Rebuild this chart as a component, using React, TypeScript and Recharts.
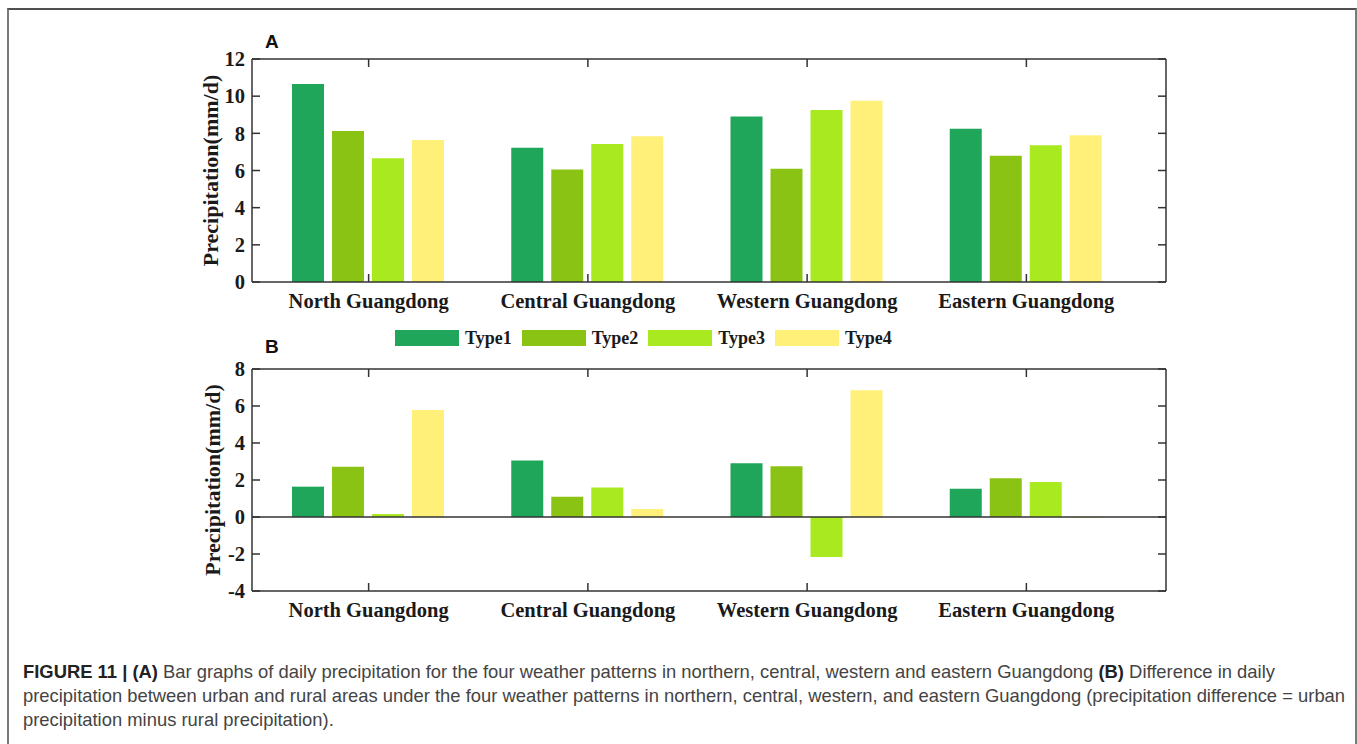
import React from 'react';
import { BarChart, Bar, XAxis, YAxis, ReferenceLine } from 'recharts';

// categories and series
const regions = ['North Guangdong', 'Central Guangdong', 'Western Guangdong', 'Eastern Guangdong'];
const typeNames = ['Type1', 'Type2', 'Type3', 'Type4'];
const typeColors = ['#1fa65a', '#8bc314', '#a8e920', '#fff07a'];

// panel A: daily precipitation (mm/d)
const dailyType1 = [10.66, 7.23, 8.9, 8.25];
const dailyType2 = [8.13, 6.06, 6.1, 6.8];
const dailyType3 = [6.66, 7.43, 9.26, 7.36];
const dailyType4 = [7.64, 7.84, 9.76, 7.9];

// panel B: urban minus rural (mm/d)
const diffType1 = [1.64, 3.06, 2.9, 1.53];
const diffType2 = [2.72, 1.1, 2.74, 2.1];
const diffType3 = [0.16, 1.6, -2.16, 1.89];
const diffType4 = [5.78, 0.43, 6.85, -0.04];

const ticksA = [0, 2, 4, 6, 8, 10, 12];
const ticksB = [-4, -2, 0, 2, 4, 6, 8];

const keys = ['t1', 't2', 't3', 't4'];

const buildRows = (series: number[][]) =>
  regions.map((region, i) => ({
    region,
    t1: series[0][i],
    t2: series[1][i],
    t3: series[2][i],
    t4: series[3][i],
  }));

const dataA = buildRows([dailyType1, dailyType2, dailyType3, dailyType4]);
const dataB = buildRows([diffType1, diffType2, diffType3, diffType4]);

const serif = '"Liberation Serif", "Times New Roman", serif';
const sans = '"Liberation Sans", Arial, Helvetica, sans-serif';
const axisColor = '#333';
const tickText = { fontFamily: serif, fontWeight: 700, fontSize: 20.5, fill: '#1a1a1a' };
const xPadding = { left: 7, right: 30 };
const lineStyle = { stroke: axisColor, strokeWidth: 1.5 };

// draws nothing, so only the inward tick lines show on the right frame
const NoLabel = () => <g />;

// bottom category label, its inward tick, and the matching inward tick on the top frame
const makeCategoryTick = (plotTop: number, plotBottom: number) => (props: any) => {
  const { x, y, payload } = props;
  return (
    <g>
      <line x1={x} x2={x} y1={plotTop} y2={plotTop + 8} {...lineStyle} />
      <line x1={x} x2={x} y1={plotBottom - 8} y2={plotBottom} {...lineStyle} />
      <text x={x} y={y} dy="0.71em" textAnchor="middle" {...tickText}>
        {payload.value}
      </text>
    </g>
  );
};

interface PanelProps {
  data: any[];
  height: number;
  top: number;
  domain: [number, number];
  ticks: number[];
  labelOffset: number;
  zeroLine?: boolean;
}

const Panel: React.FC<PanelProps> = ({ data, height, top, domain, ticks, labelOffset, zeroLine }) => (
  <BarChart
    width={1357}
    height={height}
    data={data}
    margin={{ top, right: 190, bottom: 0, left: 192 }}
    barCategoryGap={33}
    barGap={8}
  >
    <XAxis
      dataKey="region"
      interval={0}
      height={40}
      padding={xPadding}
      tickLine={false}
      tickSize={0}
      tickMargin={11}
      tick={makeCategoryTick(top + 1, height - 40)}
      axisLine={lineStyle}
    />
    <XAxis
      xAxisId="top"
      orientation="top"
      dataKey="region"
      height={1}
      padding={xPadding}
      tick={false}
      tickLine={false}
      axisLine={lineStyle}
    />
    <YAxis
      domain={domain}
      ticks={ticks}
      interval={0}
      allowDataOverflow
      width={60}
      tickSize={-8}
      tickMargin={15}
      tick={tickText}
      axisLine={lineStyle}
      tickLine={lineStyle}
      label={{
        value: 'Precipitation(mm/d)',
        angle: -90,
        position: 'insideLeft',
        offset: labelOffset,
        style: { textAnchor: 'middle', fontFamily: serif, fontWeight: 700, fontSize: 22, fill: '#1a1a1a' },
      }}
    />
    <YAxis
      yAxisId="right"
      orientation="right"
      domain={domain}
      ticks={ticks}
      interval={0}
      allowDataOverflow
      width={1}
      tickSize={-8}
      tick={NoLabel}
      axisLine={lineStyle}
      tickLine={lineStyle}
    />
    {keys.map((k, i) => (
      <Bar key={k} dataKey={k} name={typeNames[i]} fill={typeColors[i]} isAnimationActive={false} />
    ))}
    {zeroLine && <ReferenceLine y={0} stroke={axisColor} strokeWidth={1.5} />}
  </BarChart>
);

const Legend: React.FC = () => (
  <div style={{ position: 'absolute', left: 395, top: 330, display: 'flex', alignItems: 'center' }}>
    {typeNames.map((name, i) => (
      <div key={name} style={{ display: 'flex', alignItems: 'center', marginRight: 10 }}>
        <div style={{ width: 64, height: 16, background: typeColors[i], marginRight: 6 }} />
        <span style={{ fontFamily: serif, fontWeight: 700, fontSize: 18, color: '#1a1a1a', lineHeight: '16px' }}>
          {name}
        </span>
      </div>
    ))}
  </div>
);

const panelLetter = (text: string, top: number) => (
  <div
    style={{
      position: 'absolute',
      left: 265,
      top,
      fontFamily: sans,
      fontWeight: 700,
      fontSize: 19,
      color: '#111',
      lineHeight: '19px',
    }}
  >
    {text}
  </div>
);

const App: React.FC = () => (
  <div style={{ position: 'absolute', left: 0, top: 0, width: 1357, height: 744, background: '#fff', overflow: 'hidden' }}>
    <div
      style={{
        position: 'absolute',
        left: 7,
        top: 8,
        width: 1346,
        height: 760,
        borderTop: '2px solid #505050',
        borderLeft: '2px solid #7a7a7a',
        borderRight: '2px solid #7a7a7a',
      }}
    />
    <div style={{ position: 'absolute', left: 0, top: 0 }}>
      <Panel data={dataA} height={322} top={58} domain={[0, 12]} ticks={ticksA} labelOffset={18} />
    </div>
    <div style={{ position: 'absolute', left: 0, top: 320 }}>
      <Panel data={dataB} height={311} top={48} domain={[-4, 8]} ticks={ticksB} labelOffset={20} zeroLine />
    </div>
    {panelLetter('A', 32)}
    {panelLetter('B', 337)}
    <Legend />
    <div
      style={{
        position: 'absolute',
        left: 23,
        top: 660,
        fontFamily: sans,
        fontSize: 18.4,
        lineHeight: '24px',
        color: '#444',
        whiteSpace: 'nowrap',
      }}
    >
      <div>
        <b style={{ color: '#222' }}>FIGURE 11 | (A)</b> Bar graphs of daily precipitation for the four weather patterns in
        northern, central, western and eastern Guangdong <b style={{ color: '#222' }}>(B)</b> Difference in daily
      </div>
      <div>
        precipitation between urban and rural areas under the four weather patterns in northern, central, western, and
        eastern Guangdong (precipitation difference = urban
      </div>
      <div>precipitation minus rural precipitation).</div>
    </div>
  </div>
);

export default App;
